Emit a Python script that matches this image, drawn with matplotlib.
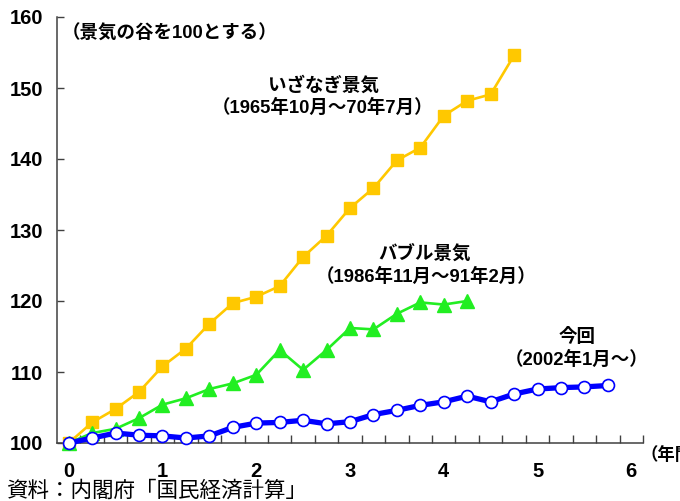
import numpy as np
import matplotlib
matplotlib.use("Agg")
import matplotlib.pyplot as plt

# Quarterly index (trough = 100), x in years from the trough
izanagi = [100.0, 102.9, 104.8, 107.2, 110.8, 113.3, 116.8, 119.7, 120.6, 122.1,
           126.2, 129.2, 133.1, 135.9, 139.8, 141.6, 146.1, 148.2, 149.1, 154.6]
bubble = [100.0, 101.4, 102.0, 103.5, 105.4, 106.3, 107.6, 108.4, 109.6, 113.1,
          110.3, 113.1, 116.2, 116.0, 118.2, 119.8, 119.5, 120.0]
current = [100.0, 100.7, 101.4, 101.1, 101.0, 100.7, 101.0, 102.2, 102.8, 102.9,
           103.2, 102.7, 103.0, 104.0, 104.6, 105.3, 105.8, 106.6, 105.8, 106.9,
           107.6, 107.8, 107.9, 108.1]
quarter = 0.25
year_ticks = [0, 1, 2, 3, 4, 5, 6]
y_ticks = [100, 110, 120, 130, 140, 150, 160]

num_font = ['Liberation Sans', 'Noto Sans CJK JP', 'DejaVu Sans']
plt.rcParams['font.family'] = num_font

fig = plt.figure(figsize=(6.8, 5.01), dpi=100)
ax = fig.add_axes([57 / 680, 1 - 443 / 501, 586 / 680, 426 / 501])

def xs(series):
    return np.arange(len(series)) * quarter

ax.plot(xs(izanagi), izanagi, color='#FFC800', lw=1.9, marker='s', ms=8.8,
        mec='#FFC800', mfc='#FFC800', zorder=3, clip_on=False)
ax.plot(xs(bubble), bubble, color='#22EE22', lw=1.9, marker='^', ms=9.5,
        mec='#22EE22', mfc='#22EE22', zorder=4, clip_on=False)
ax.plot(xs(current), current, color='#0000FF', lw=3.8, marker='o', ms=8.6,
        mec='#0000FF', mfc='white', mew=1.2, zorder=5, clip_on=False)

ax.set_xlim(-0.125, 6.125)
ax.set_ylim(100, 160)
for s in ['top', 'right']:
    ax.spines[s].set_visible(False)
for s in ['left', 'bottom']:
    ax.spines[s].set_color('#404040')
    ax.spines[s].set_linewidth(1.1)

ax.set_yticks(y_ticks)
ax.set_yticklabels([str(v) for v in y_ticks], fontsize=14.5, fontweight='bold')
ax.tick_params(axis='y', direction='in', length=5, width=1.0, color='#404040', pad=10)

ax.set_xticks(year_ticks)
ax.set_xticklabels([str(v) for v in year_ticks], fontsize=14.5, fontweight='bold')
ax.tick_params(axis='x', which='major', length=0, pad=14)
ax.set_xticks(np.arange(0.125, 6.126, 0.25), minor=True)
ax.tick_params(axis='x', which='minor', direction='in', length=6, width=1.0, color='#404040')

def label(x, y, s, size=13.3, weight='bold'):
    fig.text(x / 680, 1 - y / 501, s, ha='center', va='center',
             fontsize=size, fontweight=weight, family=num_font)

label(170, 34, '（景気の谷を100とする）')
label(324, 85, 'いざなぎ景気')
label(323, 108, '（1965年10月～70年7月）')
label(425, 254, 'バブル景気')
label(426, 277, '（1986年11月～91年2月）')
label(577, 337, '今回')
label(577, 360, '（2002年1月～）')
fig.text(640 / 680, 1 - 455 / 501, '（年間）', ha='left', va='center',
         fontsize=12.5, fontweight='bold', family=num_font)
fig.text(6 / 680, 1 - 491 / 501, '資料：内閣府「国民経済計算」', ha='left', va='center',
         fontsize=15.5, family=['Noto Sans CJK JP', 'DejaVu Sans'])

fig.savefig('out.png', dpi=100)
